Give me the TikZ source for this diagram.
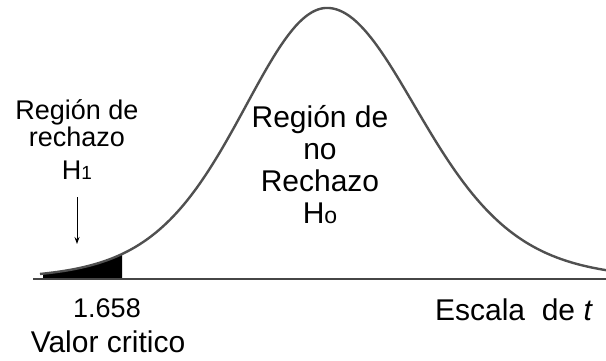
\documentclass[tikz,border=0pt]{standalone}
\usepackage{fontspec}
\setmainfont{Liberation Sans}
\usetikzlibrary{arrows.meta}
\definecolor{curvegray}{RGB}{80,80,80}
\definecolor{axisgray}{RGB}{70,70,70}
\tikzset{
  curveline/.style={draw=curvegray, line width=2.4pt},
  axisline/.style={draw=axisgray, line width=2.4pt},
  tailfill/.style={fill=black},
  pointer/.style={draw=black, line width=0.9pt, -{Stealth[length=7pt,width=5pt]}},
  lbl/.style={inner sep=0pt, anchor=base, align=center, text=black},
}
\begin{document}
\begin{tikzpicture}[x=1pt,y=1pt]
\useasboundingbox (0,0) rectangle (606,360);
% shaded rejection tail
\fill[tailfill] plot[domain=43:122, samples=40] (\x,{81+271*(1+((\x-327)/88)^2/10)^(-5.5)}) -- (122,81) -- (43,81) -- cycle;
% curve
\draw[curveline, line join=round] plot[domain=40:327, samples=120] (\x,{81+271*(1+((\x-327)/88)^2/10)^(-5.5)})
  -- plot[domain=327:606, samples=120] (\x,{81+271*(1+((\x-327)/95)^2/10)^(-5.5)});
% axis
\coordinate (axL) at (33,81);
\coordinate (axR) at (606,81);
\draw[axisline] (axL) -- (axR);
% texts (base anchor = baseline of the last line)
\node[lbl, font={\fontsize{27}{27}\selectfont}] (rej) at (77,181) {Región de\\ rechazo\\[6pt] H{\fontsize{19}{19}\selectfont 1}};
\node[lbl, font={\fontsize{30}{31.7}\selectfont}] (norej) at (320,137) {Región de\\ no\\ Rechazo\\ H{\fontsize{23}{23}\selectfont o}};
\node[lbl, font={\fontsize{27}{27}\selectfont}] (crit) at (107,43) {1.658};
\node[lbl, font={\fontsize{30}{30}\selectfont}] (valor) at (108,8) {Valor critico};
\node[lbl, font={\fontsize{30}{30}\selectfont}] (escala) at (514,40) {Escala\ \ de \textit{t}};
% arrow
\coordinate (arrTop) at (77,163);
\coordinate (arrTip) at (77,116);
\draw[pointer] (arrTop) -- (arrTip);
\end{tikzpicture}
\end{document}
